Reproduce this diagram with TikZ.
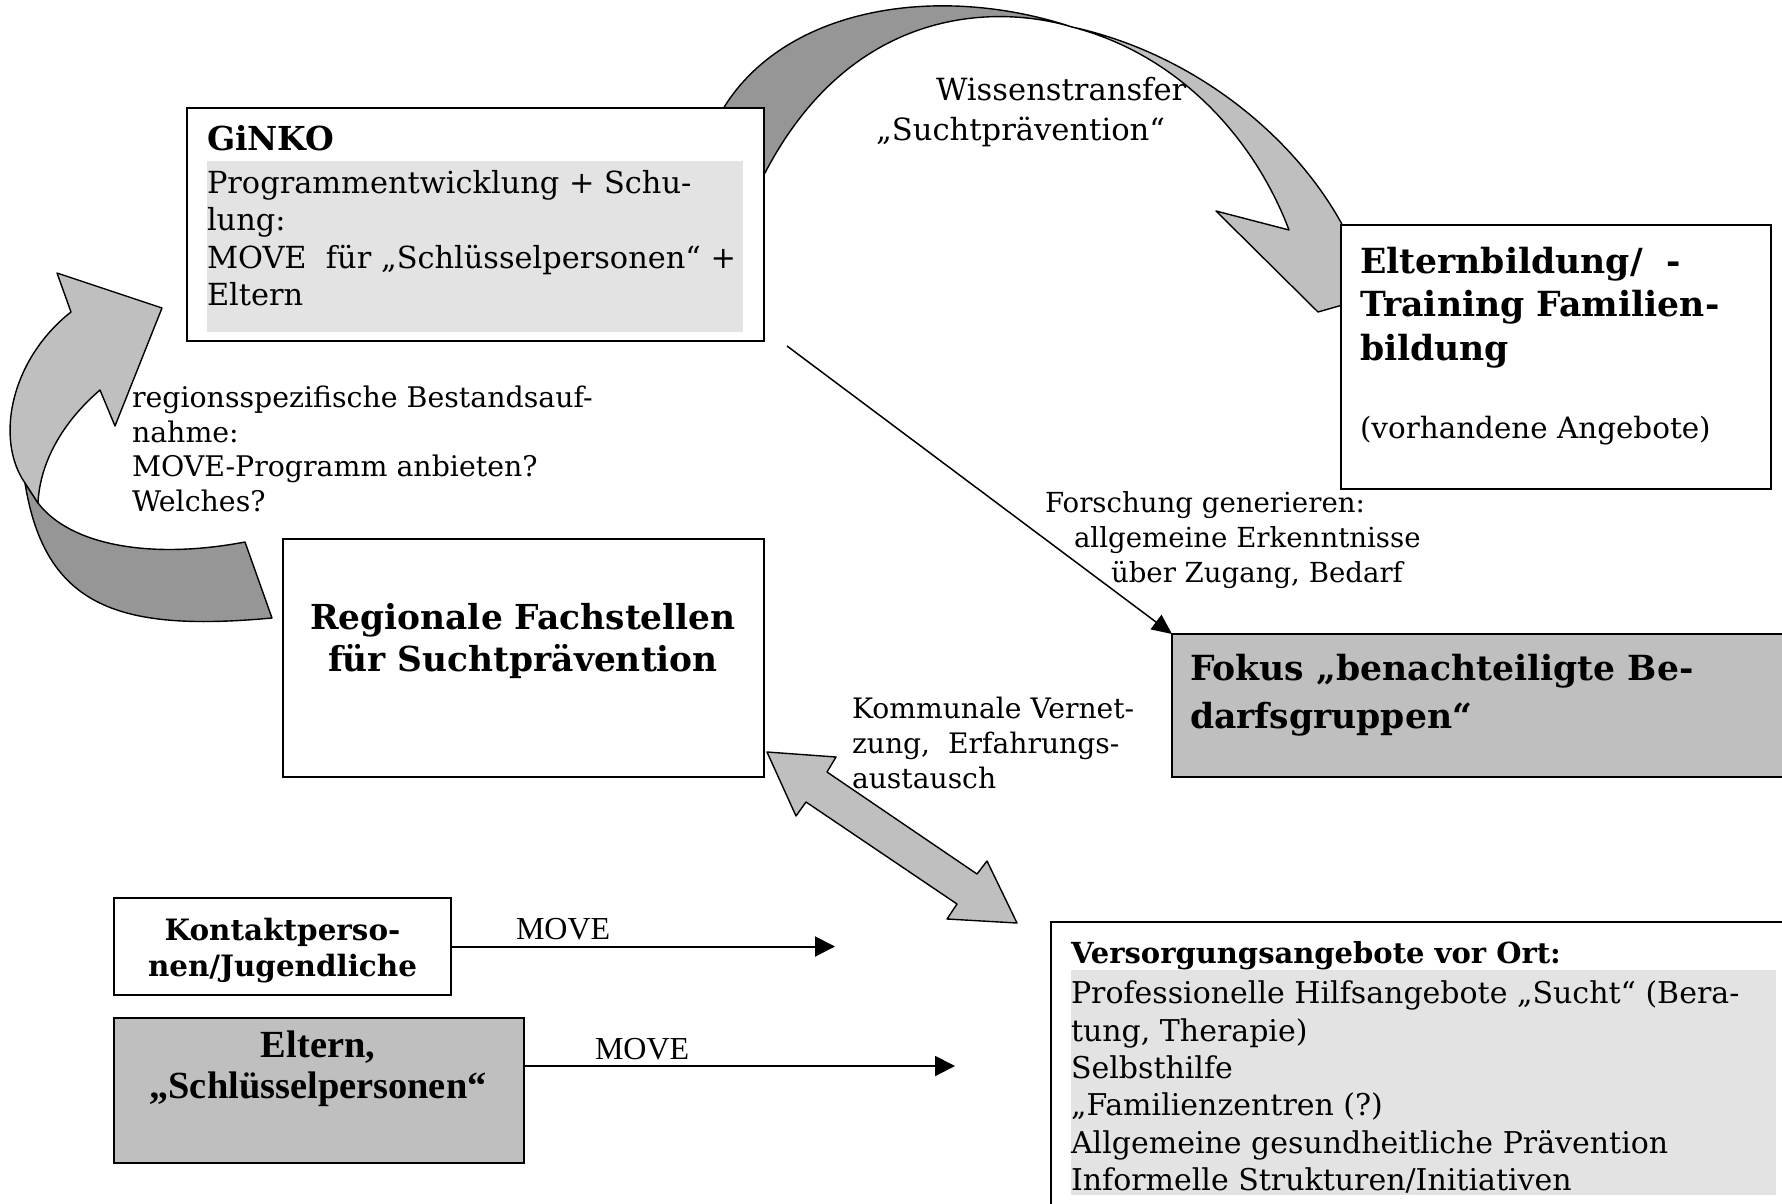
\documentclass[tikz,border=0pt]{standalone}
\usepackage{fontspec}
\setmainfont{DejaVu Serif}
\newfontfamily\tms{Liberation Serif}
\usetikzlibrary{arrows.meta,calc}
\definecolor{rdark}{gray}{0.59}
\definecolor{rlight}{gray}{0.75}
\definecolor{bglight}{gray}{0.89}
\definecolor{boxgray}{gray}{0.75}
\begin{document}
\begin{tikzpicture}[x=0.5pt,y=-0.5pt,
  box/.style={draw, line width=1pt, fill=white, anchor=north west, inner sep=0pt, outer sep=0pt},
  bgpanel/.style={fill=bglight, anchor=north west, inner sep=0pt, outer sep=0pt},
  txt/.style={anchor=north west, inner sep=0pt, outer sep=0pt, align=left},
  ribbon/.style={draw, line width=0.7pt, line join=round},
  conn/.style={line width=1pt, -{Triangle[length=10pt,width=10pt]}},
  thinconn/.style={line width=0.75pt, -{Triangle[length=10pt,width=9pt]}}
]
\path[use as bounding box] (0,0) rectangle (1782,1204);
\clip (0,0) rectangle (1782,1204);

% curved arrow top (Wissenstransfer)
\draw[ribbon, fill=rdark] (712,130) .. controls (765,10) and (930,-20) .. (1072,27)
   .. controls (1000,5) and (840,0) .. (752,200) -- cycle;
\draw[ribbon, fill=rlight] (1072,27) .. controls (1200,55) and (1305,145) .. (1350,240)
   -- (1395,290) -- (1318,312) -- (1216,211) -- (1289,230)
   .. controls (1255,140) and (1180,55) .. (1072,27) -- cycle;

% curved arrow left (Bestandsaufnahme)
\draw[ribbon, fill=rdark] (25,483) .. controls (45,608) and (120,632) .. (272,618)
   -- (245,542) .. controls (150,560) and (70,545) .. (38,503) -- cycle;
\draw[ribbon, fill=rlight] (25,483) .. controls (-5,440) and (10,360) .. (71,312)
   -- (57,273) -- (162,308) -- (115,426) -- (100,390)
   .. controls (65,420) and (40,460) .. (38,503) -- cycle;

% double arrow
\draw[ribbon, fill=rlight] (767,752) -- (836,757) -- (827,772) -- (977,874) -- (987,861)
   -- (1017,923) -- (947,919) -- (957,904) -- (806,802) -- (796,816) -- cycle;

% boxes
\node[box, minimum width=288.5pt, minimum height=116.5pt] (ginko) at (187,108) {};
\node[bgpanel, minimum width=268pt, minimum height=85.5pt] (ginkobg) at (207,161) {};
\node[box, minimum width=215pt, minimum height=132pt] (eltbild) at (1341,225) {};
\node[box, minimum width=240.5pt, minimum height=119pt] (region) at (283,539) {};
\node[box, fill=boxgray, minimum width=320pt, minimum height=71.5pt] (fokus) at (1172,634) {};
\node[box, minimum width=400pt, minimum height=150pt] (versorg) at (1051,922) {};
\node[bgpanel, minimum width=352.5pt, minimum height=112.5pt] (versorgbg) at (1071,970) {};
\node[box, minimum width=168.5pt, minimum height=48.5pt] (kontakt) at (114,898) {};
\node[box, fill=boxgray, minimum width=205pt, minimum height=72.5pt] (eltern) at (114,1018) {};

% texts in boxes
\node[txt, font=\fontsize{16.5}{18.8}\selectfont\bfseries] (ginkot) at (207,125) {GiNKO};
\node[txt, font=\fontsize{15.2}{18.8}\selectfont] (ginkob) at (207,170)
  {Programmentwicklung + Schu-\\lung:\\MOVE\ \ für „Schlüsselpersonen“ +\\Eltern};
\node[txt, font=\fontsize{17.3}{21.8}\selectfont\bfseries] (eltbildt) at (1360,247)
  {Elternbildung/\ \ -\\Training Familien-\\bildung};
\node[txt, font=\fontsize{14.7}{18}\selectfont] (eltbildb) at (1360,416) {(vorhandene Angebote)};
\node[txt, anchor=north, align=center, font=\fontsize{17.2}{21}\selectfont\bfseries] (regiont) at (523,603)
  {Regionale Fachstellen\\für Suchtprävention};
\node[txt, font=\fontsize{17.3}{24}\selectfont\bfseries] (fokust) at (1190,654)
  {Fokus „benachteiligte Be-\\darfsgruppen“};
\node[txt, font=\fontsize{14.5}{18.4}\selectfont\bfseries] (versorgt) at (1071,941) {Versorgungsangebote vor Ort:};
\node[txt, font=\fontsize{15}{18.65}\selectfont] (versorgb) at (1071,981)
  {Professionelle Hilfsangebote „Sucht“ (Bera-\\tung, Therapie)\\Selbsthilfe\\„Familienzentren (?)\\Allgemeine gesundheitliche Prävention\\Informelle Strukturen/Initiativen};
\node[txt, anchor=north, align=center, font=\fontsize{14.7}{18.3}\selectfont\bfseries] (kontaktt) at (282.5,918)
  {Kontaktperso-\\nen/Jugendliche};
\node[txt, anchor=north, align=center, font=\tms\fontsize{19.2}{20.5}\selectfont\bfseries] (elternt) at (318,1031)
  {Eltern,\\„Schlüsselpersonen“};

% free labels
\node[txt, font=\fontsize{15.3}{20}\selectfont] (wissen) at (876,77)
  {\hspace*{30pt}Wissenstransfer\\„Suchtprävention“};
\node[txt, font=\fontsize{13.8}{17.5}\selectfont] (forsch) at (1045,492)
  {Forschung generieren:\\\hspace*{14.5pt}allgemeine Erkenntnisse\\\hspace*{33pt}über Zugang, Bedarf};
\node[txt, font=\fontsize{14.2}{17.3}\selectfont] (bestand) at (132,386)
  {regionsspezifische Bestandsauf-\\nahme:\\MOVE-Programm anbieten?\\Welches?};
\node[txt, font=\fontsize{14.1}{17.5}\selectfont] (kommunal) at (852,697)
  {Kommunale Vernet-\\zung,\ \ Erfahrungs-\\austausch};
\node[txt, font=\tms\fontsize{16}{18}\selectfont] (mv1) at (516,918) {MOVE};
\node[txt, font=\tms\fontsize{16}{18}\selectfont] (mv2) at (595,1038) {MOVE};

% connectors
\coordinate (fstart) at (787,346);
\draw[thinconn] (fstart) -- (fokus.north west);
\coordinate (m1end) at (835,946.5);
\draw[conn] (kontakt.east) -- (m1end);
\coordinate (m2end) at (955,1066);
\draw[conn] (eltern.east |- m2end) -- (m2end);
\end{tikzpicture}
\end{document}
